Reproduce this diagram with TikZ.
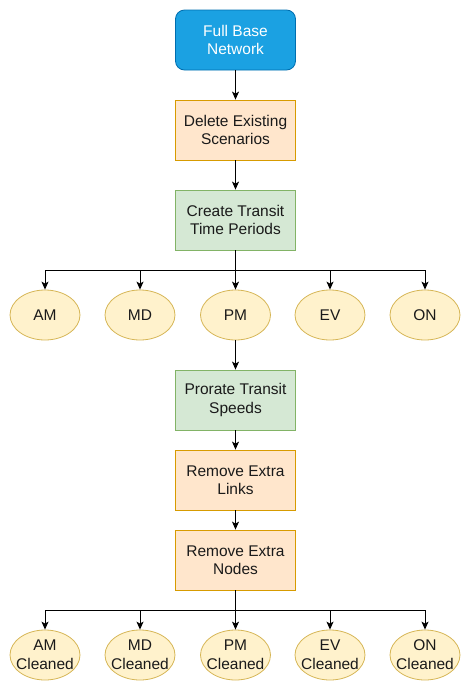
\documentclass[tikz,border=0pt]{standalone}
\usepackage{fontspec}
\setmainfont{Liberation Sans}
\usetikzlibrary{arrows.meta,shapes.geometric}
\definecolor{bluefill}{HTML}{1BA1E2}
\definecolor{bluedraw}{HTML}{006EAF}
\definecolor{orfill}{HTML}{FFE6CC}
\definecolor{ordraw}{HTML}{D79B00}
\definecolor{grfill}{HTML}{D5E8D4}
\definecolor{grdraw}{HTML}{82B366}
\definecolor{yefill}{HTML}{FFF2CC}
\definecolor{yedraw}{HTML}{D6B656}
\definecolor{txt}{HTML}{1A1A1A}
\tikzset{
  base/.style={minimum width=120pt,minimum height=60pt,inner sep=0pt,align=center,
    font=\fontsize{15.5}{18.5}\selectfont,text=txt,line width=0.8pt},
  bluebox/.style={base,rectangle,rounded corners=9pt,fill=bluefill,draw=bluedraw,text=white},
  orbox/.style={base,rectangle,fill=orfill,draw=ordraw},
  grbox/.style={base,rectangle,fill=grfill,draw=grdraw},
  yell/.style={ellipse,minimum width=70pt,minimum height=50pt,inner sep=0pt,
    fill=yefill,draw=yedraw,line width=0.8pt},
  lbl/.style={align=center,inner sep=0pt,text=txt,font=\fontsize{15.5}{19}\selectfont},
  conn/.style={line width=1pt,-{Stealth[length=8pt,width=7pt,inset=2pt]}},
  line/.style={line width=1pt}
}
\begin{document}
\begin{tikzpicture}[x=1pt,y=-1pt]
\useasboundingbox (0,0) rectangle (471,691);
\node[bluebox] (full) at (235.5,40) {Full Base\\Network};
\node[orbox] (del) at (235.5,130) {Delete Existing\\Scenarios};
\node[grbox] (create) at (235.5,220) {Create Transit\\Time Periods};
\node[yell,label={[lbl]center:AM}] (am) at (45,315) {};
\node[yell,label={[lbl]center:MD}] (md) at (140,315) {};
\node[yell,label={[lbl]center:PM}] (pm) at (235.5,315) {};
\node[yell,label={[lbl]center:EV}] (ev) at (330,315) {};
\node[yell,label={[lbl]center:ON}] (on) at (425,315) {};
\node[grbox] (pror) at (235.5,400) {Prorate Transit\\Speeds};
\node[orbox] (links) at (235.5,480) {Remove Extra\\Links};
\node[orbox] (nodes) at (235.5,560) {Remove Extra\\Nodes};
\node[yell,label={[lbl]center:AM\\Cleaned}] (amc) at (45,655) {};
\node[yell,label={[lbl]center:MD\\Cleaned}] (mdc) at (140,655) {};
\node[yell,label={[lbl]center:PM\\Cleaned}] (pmc) at (235.5,655) {};
\node[yell,label={[lbl]center:EV\\Cleaned}] (evc) at (330,655) {};
\node[yell,label={[lbl]center:ON\\Cleaned}] (onc) at (425,655) {};
\coordinate (j1) at (235.5,270.5);
\coordinate (j2) at (235.5,610.5);
\draw[conn] (full) -- (del);
\draw[conn] (del) -- (create);
\draw[line] (create.south) -- (j1);
\foreach \n in {am,md,pm,ev,on}{
  \draw[conn] (j1) -| (\n.north);
}
\draw[conn] (pm) -- (pror);
\draw[conn] (pror) -- (links);
\draw[conn] (links) -- (nodes);
\draw[line] (nodes.south) -- (j2);
\foreach \n in {amc,mdc,pmc,evc,onc}{
  \draw[conn] (j2) -| (\n.north);
}
\end{tikzpicture}
\end{document}
